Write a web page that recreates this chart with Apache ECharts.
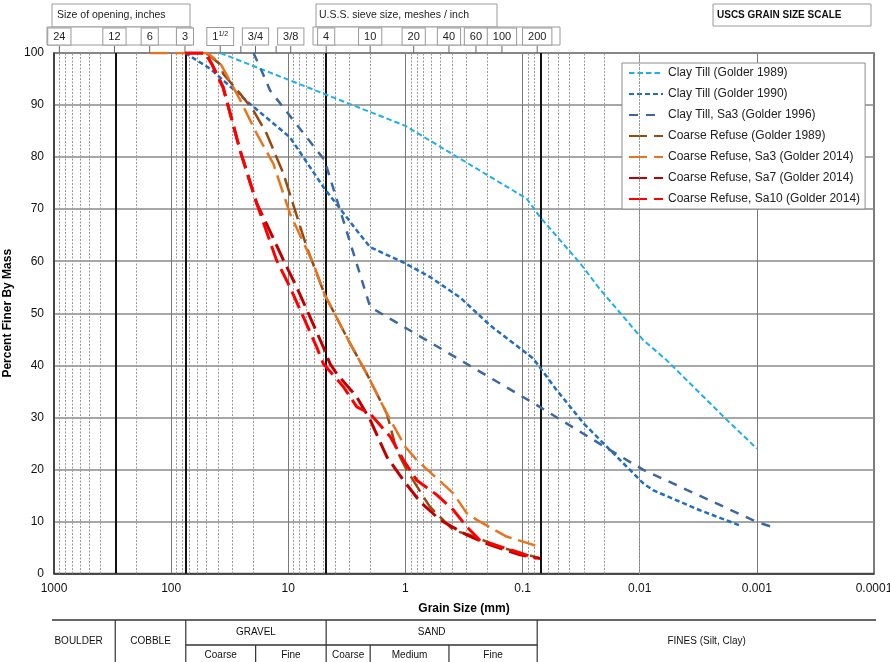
<!DOCTYPE html>
<html>
<head>
<meta charset="utf-8">
<script src="https://cdn.jsdelivr.net/npm/echarts@6/dist/echarts.min.js"></script>
<style>html,body{margin:0;padding:0;background:#fff;}#c{width:890px;height:662px;}</style>
</head>
<body>
<div id="c"></div>
<script>
// ---------------- data ----------------
const xTickLabels = ['1000', '100', '10', '1', '0.1', '0.01', '0.001', '0.0001'];

const clayTill1989 = [[38,100],[1.0,86],[0.092,72],[0.071,68.5],[0.032,59.5],[0.022,54.7],[0.0093,44.8],[0.0059,41],[0.0019,30],[0.001,24]];
const clayTill1990 = [[76,100],[46.6,97],[21.2,90.2],[9.67,83.8],[5.0,74.2],[2.6,65.9],[2.0,62.7],[1.05,59.8],[0.62,57],[0.34,53],[0.19,47.7],[0.081,41.3],[0.051,35.2],[0.030,28.8],[0.0093,17.3],[0.0077,16],[0.0031,12.2],[0.00135,9.1]];
const clayTillSa3 = [[19.8,100],[16.9,96.6],[14.3,92.8],[4.9,79.4],[2.0,51.2],[0.075,32.3],[0.0179,23.7],[0.0093,19.9],[0.001,9.9],[0.00075,9.0]];
const refuse1989 = [[50,100],[38.5,97.9],[35.9,96],[25.8,92.2],[19.9,89],[15.3,84.5],[11.0,76.8],[6.96,62.7],[4.87,53.5],[2.97,44.2],[2.14,38.4],[1.44,30.7],[1.19,23.7],[0.975,19.9],[0.70,14.7],[0.617,12.8],[0.39,8.3],[0.281,7.4],[0.156,5.1],[0.071,2.9]];
const refuseSa3 = [[152,100],[49,100],[38,98],[25.8,91],[18.6,84.5],[13.4,78.7],[9.66,69.1],[6.1,59.5],[4.87,53.5],[2.97,44.2],[2.14,38.4],[1.44,30.7],[1.0,24.3],[0.8,21.8],[0.578,18.9],[0.39,15.4],[0.3,11.6],[0.246,10.3],[0.137,7.1],[0.081,5.5],[0.073,5.1]];
const refuseSa7 = [[76,100],[51,100],[45,97.9],[36,93.4],[25.8,81.3],[18.6,71.1],[15.8,67.8],[11.0,60.2],[8.47,55],[6.53,49.3],[5.02,43.5],[4.4,40.3],[3.86,38.4],[2.6,33.9],[2.0,29.5],[1.44,22.4],[1.04,17.9],[0.75,13.8],[0.507,10.3],[0.30,7.4],[0.19,5.5],[0.105,3.6],[0.071,2.9]];
const refuseSa10 = [[76,100],[51,100],[45,97.9],[36,93.4],[25.8,81.3],[18.6,71.1],[12.6,60.2],[9.67,55],[7.44,49.3],[5.72,43.5],[5.02,40.3],[3.39,35.9],[2.6,32],[2.0,30.7],[1.35,26.3],[1.04,21.8],[0.80,17.9],[0.54,15.1],[0.39,12.2],[0.30,9.0],[0.231,6.4],[0.137,4.8],[0.0757,2.9]];

const seriesNames = ['Clay Till (Golder 1989)','Clay Till (Golder 1990)','Clay Till, Sa3 (Golder 1996)','Coarse Refuse (Golder 1989)','Coarse Refuse, Sa3 (Golder 2014)','Coarse Refuse, Sa7 (Golder 2014)','Coarse Refuse, Sa10 (Golder 2014)'];

// sieve / opening sizes (mm) marked on top of the chart
const sieveSizes  = [900, 304.8, 152.4, 76.2, 38.1, 25.4, 19.05, 12.7, 9.525, 4.75, 2.0, 0.85, 0.425, 0.25, 0.15, 0.075];
const sieveLabels = ['24','12','6','3','1{s|1/2}','','3/4','','3/8','4','10','20','40','60','100','200'];

// USCS class boundaries (mm)
const classBounds = [300, 75, 4.75, 0.075];
const subBounds = [19, 2, 0.425];
const classNames = ['BOULDER','COBBLE','GRAVEL','SAND','FINES (Silt, Clay)'];
const subNames = ['Coarse','Fine','Coarse','Medium','Fine'];

// minor log grid lines 2..9 per decade
const minorGrid = [];
for (let k = -4; k <= 2; k++) for (let m = 2; m <= 9; m++) minorGrid.push(+(m * Math.pow(10, k)).toPrecision(6));

// ---------------- chart ----------------
const FONT = 'Liberation Sans';
const chart = echarts.init(document.getElementById('c'), null, {renderer: 'canvas'});

const styles = [
  {color:'#1CB0EA', width:2,   dash:[5.5,3]},
  {color:'#1F6EC0', width:2.5, dash:[5,3]},
  {color:'#3C68A0', width:2.5, dash:[9,8]},
  {color:'#99490F', width:2.5, dash:[18,7]},
  {color:'#E8741E', width:2.5, dash:[18,7]},
  {color:'#C00000', width:3,   dash:[18,7]},
  {color:'#FF0000', width:3,   dash:[18,7]}
];
const datasets = [clayTill1989, clayTill1990, clayTillSa3, refuse1989, refuseSa3, refuseSa7, refuseSa10];

const dataSeries = datasets.map((d, i) => ({
  type: 'line', name: seriesNames[i], data: d, symbol: 'none', showSymbol: false,
  z: 5, silent: true,
  itemStyle: {color: styles[i].color},
  lineStyle: {color: styles[i].color, width: styles[i].width, type: styles[i].dash}
}));

const gridSeries = [
  {type:'line', name:'_minor', data:[], silent:true, z:1,
   markLine:{symbol:['none','none'], silent:true, animation:false, label:{show:false},
     lineStyle:{type:[2,1.5], color:'#9a9a9a', width:1},
     data: minorGrid.map(v => ({xAxis: v}))}},
  {type:'line', name:'_bounds', data:[], silent:true, z:2,
   markLine:{symbol:['none','none'], silent:true, animation:false, label:{show:false},
     lineStyle:{type:'solid', color:'#111', width:2},
     data: classBounds.map(v => ({xAxis: v}))}}
];

const sieveSeries = {
  type: 'custom', name: '_sieve', silent: true, clip: false, z: 10,
  data: sieveSizes.map(v => [v, 100]),
  encode: {x: 0, y: 1},
  renderItem: function (params, api) {
    const p = api.coord([api.value(0), 100]);
    const children = [{type:'line', shape:{x1:p[0], y1:p[1]-7, x2:p[0], y2:p[1]}, style:{stroke:'#666', lineWidth:1}}];
    const t = sieveLabels[params.dataIndex];
    if (t) {
      children.push({type:'text', style:{
        text: t, x: p[0], y: p[1]-16.5, align:'center', verticalAlign:'middle',
        font: '11px ' + FONT, fill:'#222', backgroundColor:'#fff', borderColor:'#9a9a9a', borderWidth:1,
        padding:[3,5,2,5],
        rich: {s: {fontSize: 7, fontFamily: FONT, padding:[0,0,5,0]}}
      }});
    }
    return {type:'group', children: children};
  }
};

const tableSeries = {
  type: 'custom', name: '_table', silent: true, clip: false, z: 10,
  data: [[1, 0]],
  encode: {x: 0, y: 1},
  renderItem: function (params, api) {
    const base = api.coord([1, 0])[1];
    const xl = api.coord([1000, 0])[0] - 2;
    const xr = api.coord([0.0001, 0])[0] + 2;
    const cx = classBounds.map(v => api.coord([v, 0])[0]);
    const sx = subBounds.map(v => api.coord([v, 0])[0]);
    const yTop = base + 46.5, yDiv = base + 71.5, yBot = 662;
    const ln = (x1, y1, x2, y2, w) => ({type:'line', shape:{x1, y1, x2, y2}, style:{stroke:'#333', lineWidth:w || 1.2}});
    const tx = (t, x, y) => ({type:'text', style:{text:t, x, y, align:'center', verticalAlign:'middle', font:'10px ' + FONT, fill:'#111'}});
    const ch = [ln(xl, yTop, xr, yTop, 1.5), ln(cx[1], yDiv, cx[3], yDiv, 1.5)];
    cx.forEach(x => ch.push(ln(x, yTop, x, yBot)));
    sx.forEach(x => ch.push(ln(x, yDiv, x, yBot)));
    const rowMid = base + 67.5, rowUp = base + 58.5, rowLow = base + 81.5;
    ch.push(tx(classNames[0], (xl + cx[0]) / 2 - 5, rowMid));
    ch.push(tx(classNames[1], (cx[0] + cx[1]) / 2, rowMid));
    ch.push(tx(classNames[2], (cx[1] + cx[2]) / 2, rowUp));
    ch.push(tx(classNames[3], (cx[2] + cx[3]) / 2, rowUp));
    ch.push(tx(classNames[4], (cx[3] + xr) / 2, rowMid));
    const subEdges = [cx[1], sx[0], cx[2], sx[1], sx[2], cx[3]];
    const subIdx = [[0,1],[1,2],[2,3],[3,4],[4,5]];
    subIdx.forEach((e, i) => ch.push(tx(subNames[i], (subEdges[e[0]] + subEdges[e[1]]) / 2, rowLow)));
    return {type:'group', children: ch};
  }
};

const option = {
  animation: false,
  backgroundColor: '#fff',
  textStyle: {fontFamily: FONT},
  grid: {left: 54, right: 16, top: 53, bottom: 88.5, containLabel: false, outerBoundsMode: 'none',
         show: true, borderColor: '#555', borderWidth: 1.5, backgroundColor: 'transparent'},
  legend: {
    data: seriesNames, orient: 'vertical', left: 622, top: 63,
    padding: [4, 5, 4, 6], itemWidth: 34, itemHeight: 12, itemGap: 9, itemTextGap: 4,
    backgroundColor: '#fff', borderColor: '#8c8c8c', borderWidth: 1,
    itemStyle: {color: 'rgba(0,0,0,0)', borderColor: 'rgba(0,0,0,0)', borderWidth: 0},
    textStyle: {fontSize: 12, color: '#222', fontFamily: FONT, lineHeight: 12},
    selectedMode: false
  },
  xAxis: {
    type: 'log', logBase: 10, min: 0.0001, max: 1000, inverse: true, splitNumber: 7,
    name: 'Grain Size (mm)', nameLocation: 'middle', nameGap: 29,
    nameTextStyle: {fontWeight: 'bold', fontSize: 12, color: '#000', fontFamily: FONT},
    axisLine: {show: true, lineStyle: {color: '#333', width: 1.5}},
    axisTick: {show: false},
    axisLabel: {fontSize: 12, color: '#111', margin: 9, showMinLabel: true, showMaxLabel: true,
      formatter: v => { const i = Math.round(3 - Math.log10(v)); return xTickLabels[i] !== undefined ? xTickLabels[i] : ''; }},
    splitLine: {show: true, lineStyle: {color: '#7a7a7a', width: 1}}
  },
  yAxis: {
    type: 'value', min: 0, max: 100, interval: 10,
    name: 'Percent Finer By Mass', nameLocation: 'middle', nameGap: 40, nameMoveOverlap: false,
    nameTextStyle: {fontWeight: 'bold', fontSize: 12, color: '#000', fontFamily: FONT},
    axisLine: {show: true, lineStyle: {color: '#333', width: 1.5}},
    axisTick: {show: false},
    axisLabel: {fontSize: 12, color: '#111', margin: 10},
    splitLine: {show: true, lineStyle: {color: '#8a8a8a', width: 1.5}}
  },
  graphic: [
    {type:'rect', z:0, shape:{x:52, y:4, width:138, height:23}, style:{fill:'#fff', stroke:'#9a9a9a', lineWidth:1}},
    {type:'text', z:1, x:57, y:15.5, style:{text:'Size of opening, inches', font:'10.5px ' + FONT, fill:'#222', verticalAlign:'middle'}},
    {type:'rect', z:0, shape:{x:316, y:4, width:181, height:23}, style:{fill:'#fff', stroke:'#9a9a9a', lineWidth:1}},
    {type:'text', z:1, x:319, y:15.5, style:{text:'U.S.S. sieve size, meshes / inch', font:'10.5px ' + FONT, fill:'#222', verticalAlign:'middle'}},
    {type:'rect', z:0, shape:{x:47, y:27, width:145, height:18}, style:{fill:'#fff', stroke:'#9a9a9a', lineWidth:1}},
    {type:'rect', z:0, shape:{x:313, y:27, width:247, height:18}, style:{fill:'#fff', stroke:'#9a9a9a', lineWidth:1}},
    {type:'rect', z:0, shape:{x:713, y:4, width:158, height:22}, style:{fill:'#fff', stroke:'#9a9a9a', lineWidth:1}},
    {type:'text', z:1, x:717, y:15, style:{text:'USCS GRAIN SIZE SCALE', font:'bold 10px ' + FONT, fill:'#111', verticalAlign:'middle'}}
  ],
  series: gridSeries.concat(dataSeries, [sieveSeries, tableSeries])
};
chart.setOption(option);
</script>
</body>
</html>
